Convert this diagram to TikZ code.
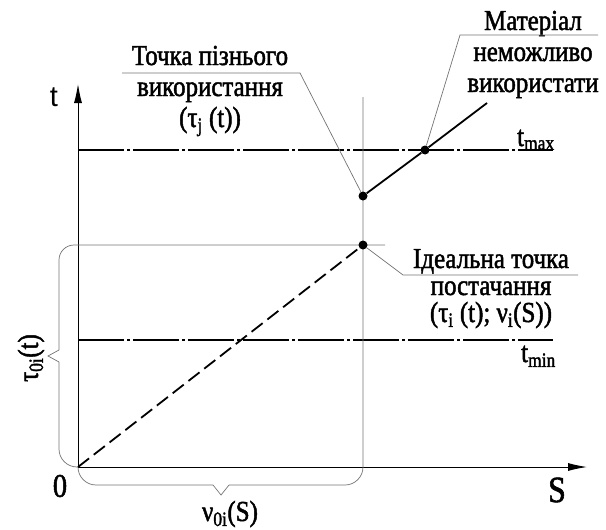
\documentclass[tikz,border=0pt]{standalone}
\usepackage{fontspec}
\setmainfont{Liberation Serif}
\setsansfont{Liberation Sans}
\newfontfamily\drawfont[FakeStretch=0.86, FakeBold=1.6]{Liberation Serif}
\usetikzlibrary{arrows.meta}

\begin{document}
\begin{tikzpicture}[
    x=1pt, y=-1pt,
    axis/.style={line width=0.9pt, -{Latex[length=19pt,width=8pt]}},
    level/.style={line width=1.8pt, dash pattern=on 46pt off 3pt on 3pt off 3pt},
    trend/.style={line width=1.8pt},
    ideal/.style={line width=1.8pt, dash pattern=on 14pt off 6pt},
    guide/.style={line width=0.7pt, black!55},
    dot/.style={circle, fill=black, inner sep=0pt, minimum size=9pt},
    lbl/.style={font=\drawfont\fontsize{29}{31}\selectfont, align=center, inner sep=0pt},
    sublbl/.style={font=\drawfont\fontsize{29}{30}\selectfont, inner sep=0pt},
  ]
  \def\xs{363}      % supply column
  \def\ymax{150}    % t_max level
  \def\ymin{340}    % t_min level

  \useasboundingbox (0,0) rectangle (606,530);

  % ===== axes =====
  \coordinate (O) at (78,467);
  \coordinate (tend) at (78,84);
  \coordinate (send) at (587,467);
  \draw[axis] (O) -- (tend);
  \draw[axis] (O) -- (send);
  \node[font=\sffamily\fontsize{29}{29}\selectfont, inner sep=0pt] (tlbl) at (54,97) {t};
  \node[font=\drawfont\fontsize{33}{33}\selectfont, inner sep=0pt] (zero) at (60,486) {0};
  \node[font=\drawfont\fontsize{37}{37}\selectfont, inner sep=0pt] (slbl) at (557,490) {S};

  % ===== levels =====
  \coordinate (maxL) at (78,\ymax);  \coordinate (maxR) at (553,\ymax);
  \coordinate (minL) at (78,\ymin);  \coordinate (minR) at (553,\ymin);
  \draw[level] (maxL) -- (maxR);
  \draw[level] (minL) -- (minR);
  \node[sublbl, anchor=base west] (tmax) at (517,146) {t\textsubscript{max}};
  \node[sublbl, anchor=base west] (tmin) at (521,362) {t\textsubscript{min}};

  % ===== braces and guides =====
  \draw[guide, rounded corners=15pt] (385,245) -- (59,245) -- (59,350);
  \draw[guide] (59,350) -- (48,356) -- (59,362);
  \draw[guide, rounded corners=18pt] (59,362) -- (59,467) -- (O);
  \draw[guide, rounded corners=18pt] (O) -- (78,485) -- (213,485);
  \draw[guide] (213,485) -- (221,495) -- (229,485);
  \draw[guide, rounded corners=18pt] (229,485) -- (\xs,485) -- (\xs,97);
  \node[sublbl, rotate=90] (tau0) at (31,358) {τ\textsubscript{0i}(t)};
  \node[sublbl] (nu0) at (230,514) {ν\textsubscript{0i}(S)};

  % ===== points =====
  \node[dot] (ideal) at (\xs,245) {};
  \node[dot] (late) at (\xs,196) {};
  \node[dot] (limit) at (425,\ymax) {};
  \coordinate (trendend) at (487,103);
  \draw[ideal] (O) -- (ideal);
  \draw[trend] (late) -- (limit) -- (trendend);

  % ===== callouts (base = last line) =====
  \node[lbl, anchor=base] (latetxt) at (210,127) {Точка пізнього\\використання\\(τ\textsubscript{j} (t))};
  \coordinate (lateA) at (122,73);  \coordinate (lateB) at (300,73);
  \draw[guide] (lateA) -- (lateB) -- (late);

  \node[lbl, anchor=base] (mattxt) at (533,92) {Матеріал\\неможливо\\використати};
  \coordinate (matA) at (460,35);  \coordinate (matB) at (598,35);
  \draw[guide] (matB) -- (matA) -- (limit);

  \node[lbl, font=\drawfont\fontsize{29}{27}\selectfont, anchor=base] (idealtxt) at (491,322)
    {Ідеальна точка\\постачання\\(τ\textsubscript{i} (t); ν\textsubscript{i}(S))};
  \coordinate (idealA) at (403,275);  \coordinate (idealB) at (578,275);
  \draw[guide] (idealB) -- (idealA) -- (ideal);
\end{tikzpicture}
\end{document}
